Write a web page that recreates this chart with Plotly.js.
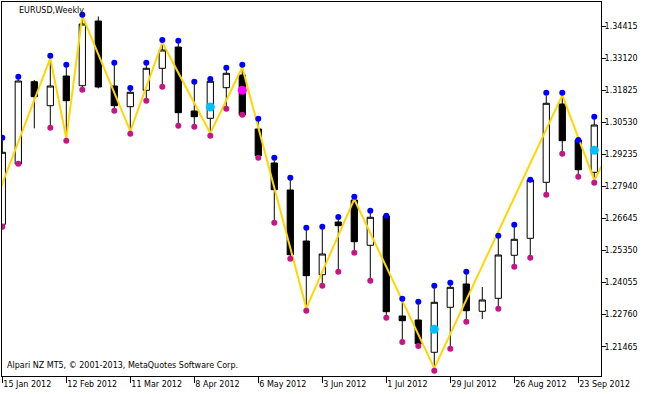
<!DOCTYPE html>
<html>
<head>
<meta charset="utf-8">
<script src="https://cdn.plot.ly/plotly-3.0.1.min.js"></script>
<style>html,body{margin:0;padding:0;background:#fff;}#chart{width:650px;height:394px;}</style>
</head>
<body>
<div id="chart"></div>
<script>
// Weekly bars (week start dates)
var weeks = ['2012-01-15','2012-01-22','2012-01-29','2012-02-05','2012-02-12','2012-02-19','2012-02-26',
  '2012-03-04','2012-03-11','2012-03-18','2012-03-25','2012-04-01','2012-04-08','2012-04-15','2012-04-22',
  '2012-04-29','2012-05-06','2012-05-13','2012-05-20','2012-05-27','2012-06-03','2012-06-10','2012-06-17',
  '2012-06-24','2012-07-01','2012-07-08','2012-07-15','2012-07-22','2012-07-29','2012-08-05','2012-08-12',
  '2012-08-19','2012-08-26','2012-09-02','2012-09-09','2012-09-16','2012-09-23','2012-09-30'];

var openP  = [1.26407,1.28842,1.32166,1.31197,1.32396,1.32004,1.34617,1.31992,1.31156,1.31819,1.32707,1.33567,1.30983,
  1.30688,1.31924,1.32436,1.30256,1.28883,1.27793,1.25733,1.24372,1.26500,1.27389,1.25559,1.26743,1.22705,1.22543,
  1.21239,1.23056,1.23997,1.22894,1.23419,1.25156,1.25842,1.28103,1.31265,1.29812,1.28507];
var highP  = [1.29803,1.32267,1.32234,1.33115,1.32751,1.34819,1.34799,1.32832,1.31810,1.32832,1.33749,1.33720,1.32065,
  1.32214,1.32630,1.32751,1.30571,1.28996,1.28188,1.26169,1.26210,1.26601,1.27421,1.26856,1.26751,1.23302,1.23181,
  1.23827,1.23948,1.24392,1.23876,1.25846,1.26290,1.28200,1.31605,1.31621,1.29820,1.30652];
var lowP   = [1.26399,1.28830,1.30284,1.30409,1.29884,1.31944,1.31899,1.31096,1.30167,1.31500,1.32065,1.30490,1.30450,
  1.30086,1.31176,1.30801,1.29166,1.26573,1.25119,1.23020,1.24029,1.24594,1.25362,1.24231,1.22737,1.21756,1.21574,
  1.20597,1.21485,1.22575,1.22583,1.23100,1.24796,1.25160,1.27704,1.29359,1.28431,1.28188];
var closeP = [1.29315,1.32194,1.31560,1.31992,1.31399,1.34496,1.31952,1.31197,1.31738,1.32707,1.33446,1.30914,1.30752,
  1.32182,1.32505,1.30821,1.29178,1.27805,1.25180,1.24332,1.25208,1.26351,1.25705,1.26690,1.22878,1.22515,1.21586,
  1.23258,1.23863,1.22919,1.23351,1.25168,1.25802,1.28196,1.31294,1.29783,1.28612,1.30417];

// Indicator dots
var upDots   = [1.29904,1.32368,null,1.33216,1.32852,1.34871,null,1.32933,1.31911,1.32933,1.33850,1.33821,1.32166,
  1.32275,1.32731,1.32852,1.30672,1.29097,1.28289,1.26270,1.26311,1.26702,1.27522,1.26957,1.26755,1.23403,1.23282,
  1.23928,1.24049,1.24493,null,1.25947,1.26391,1.28208,1.31722,1.31722,1.29812,1.30752];
var downDots = [1.26311,1.28855,null,1.30308,1.29783,1.31843,null,1.30995,1.30066,1.31399,1.31964,1.30389,1.30349,
  1.29985,1.31076,1.30833,1.29097,1.26472,1.25018,1.22919,1.23928,1.24493,1.25261,1.24130,1.22636,1.21655,1.21493,
  1.20496,1.21384,1.22474,null,1.22999,1.24695,1.25059,1.27603,1.29258,1.28330,1.28087];
var signalWeeks = ['2012-04-15','2012-07-22','2012-09-30'];
var signalVals  = [1.31144,1.22167,1.29396];
var alertWeeks  = ['2012-04-29'];
var alertVals   = [1.31819];

// ZigZag vertices
var zzWeeks = ['2012-01-08','2012-02-05','2012-02-12','2012-02-19','2012-03-11','2012-03-25','2012-04-15',
  '2012-04-29','2012-05-27','2012-06-17','2012-07-22','2012-09-16','2012-09-30','2012-10-07'];
var zzVals  = [1.26355,1.33115,1.29884,1.34819,1.30167,1.33749,1.30086,1.32751,1.23020,1.27421,1.20597,1.31621,1.28188,1.29436];

var priceTicks = [1.21465,1.22760,1.24055,1.25350,1.26645,1.27940,1.29235,1.30530,1.31825,1.33120,1.34415];
var tickWeeks  = ['2012-01-15','2012-02-12','2012-03-11','2012-04-08','2012-05-06','2012-06-03','2012-07-01','2012-07-29','2012-08-26','2012-09-23'];
var tickLabels = ['15 Jan 2012','12 Feb 2012','11 Mar 2012','8 Apr 2012','6 May 2012','3 Jun 2012','1 Jul 2012','29 Jul 2012','26 Aug 2012','23 Sep 2012'];

var FONT = 'DejaVu Sans, sans-serif';

var traces = [
  {type:'candlestick', x:weeks, open:openP, high:highP, low:lowP, close:closeP,
   increasing:{line:{color:'#000000',width:1}, fillcolor:'#ffffff'},
   decreasing:{line:{color:'#000000',width:1}, fillcolor:'#000000'},
   whiskerwidth:0, hoverinfo:'skip', showlegend:false},
  {type:'scatter', mode:'lines', x:zzWeeks, y:zzVals, line:{color:'#FFD700', width:2}, hoverinfo:'skip', showlegend:false},
  {type:'scatter', mode:'markers', x:weeks, y:upDots, marker:{color:'#0000FF', size:6, symbol:'circle'}, hoverinfo:'skip', showlegend:false},
  {type:'scatter', mode:'markers', x:weeks, y:downDots, marker:{color:'#C71585', size:6, symbol:'circle'}, hoverinfo:'skip', showlegend:false},
  {type:'scatter', mode:'markers', x:signalWeeks, y:signalVals, marker:{color:'#00BFFF', size:9, symbol:'circle'}, hoverinfo:'skip', showlegend:false},
  {type:'scatter', mode:'markers', x:alertWeeks, y:alertVals, marker:{color:'#FF00FF', size:9, symbol:'circle'}, hoverinfo:'skip', showlegend:false}
];

var layout = {
  width:650, height:394,
  margin:{l:2, r:49, t:2, b:18, pad:0},
  paper_bgcolor:'#ffffff', plot_bgcolor:'#ffffff',
  boxgap:0.44,
  showlegend:false,
  hovermode:false,
  font:{family:FONT, size:8, color:'#000000'},
  xaxis:{type:'date', range:['2012-01-14 20:48','2012-10-02 22:33'],
    rangeslider:{visible:false},
    tickmode:'array', tickvals:tickWeeks, ticktext:tickLabels,
    ticks:'outside', ticklen:6, tickcolor:'#000', tickwidth:1,
    ticklabelposition:'outside right',
    showgrid:false, zeroline:false,
    showline:true, linecolor:'#000', linewidth:1, mirror:true,
    tickfont:{family:FONT, size:8, color:'#000'}},
  yaxis:{side:'right', range:[1.202816,1.353841],
    tickmode:'array', tickvals:priceTicks, ticktext:priceTicks.map(function(v){return v.toFixed(5);}),
    ticks:'outside', ticklen:4, tickcolor:'#000', tickwidth:1,
    ticklabelstandoff:-3,
    showgrid:false, zeroline:false,
    showline:true, linecolor:'#000', linewidth:1, mirror:true,
    tickfont:{family:FONT, size:8, color:'#000'}},
  annotations:[
    {text:'EURUSD,Weekly', xref:'paper', yref:'paper', x:0.0255, y:0.9786, xanchor:'left', yanchor:'middle',
     showarrow:false, font:{family:FONT, size:8, color:'#000'}},
    {text:'Alpari NZ MT5, © 2001-2013, MetaQuotes Software Corp.', xref:'paper', yref:'paper', x:0.0045, y:0.0294,
     xanchor:'left', yanchor:'middle', showarrow:false, font:{family:FONT, size:8, color:'#000'}}
  ]
};

Plotly.newPlot('chart', traces, layout, {displayModeBar:false, staticPlot:true});
</script>
</body>
</html>
